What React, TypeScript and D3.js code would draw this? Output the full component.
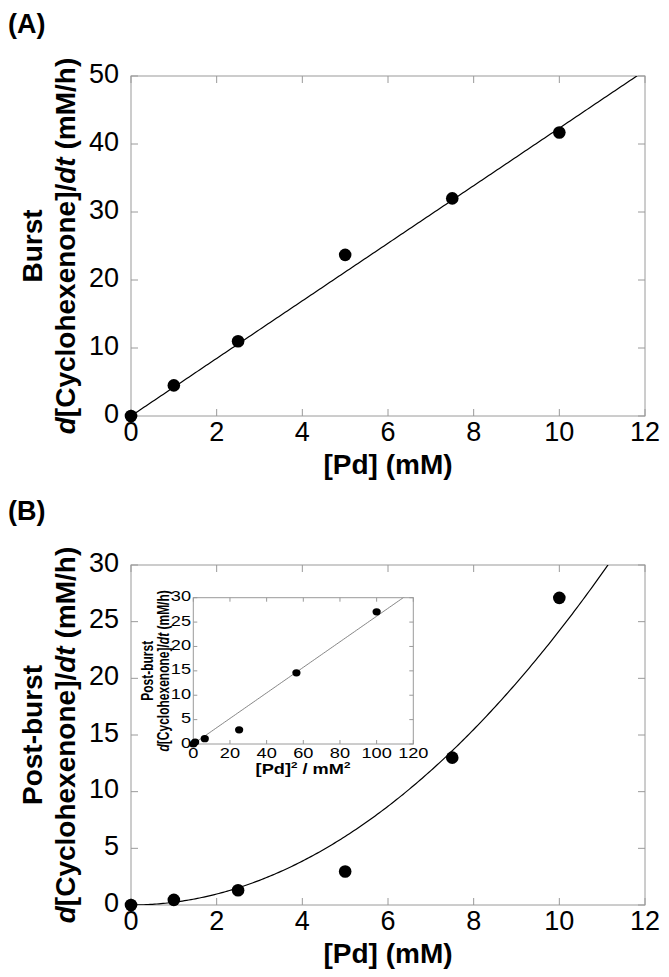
import React from "react";
import * as d3 from "d3";

const pdA = [0, 1, 2.5, 5, 7.5, 10];
const burstRate = [0, 4.5, 11, 23.7, 32, 41.7];
const pdB = [0, 1, 2.5, 5, 7.5, 10];
const postRate = [0, 0.45, 1.3, 2.95, 13.0, 27.1];
const pdSq = [0, 1, 6.25, 25, 56.25, 100];
const insetRate = [0, 0.4, 1.1, 2.9, 14.6, 27.1];
const xTicksMain = [0, 2, 4, 6, 8, 10, 12];
const yTicksA = [0, 10, 20, 30, 40, 50];
const yTicksB = [0, 5, 10, 15, 20, 25, 30];
const xTicksInset = [0, 20, 40, 60, 80, 100, 120];
const yTicksInset = [0, 5, 10, 15, 20, 25, 30];
const slopeA = 4.234; // linear fit, burst
const coefB = 0.242; // quadratic fit, post-burst
const slopeInset = 0.262;

const FONT = "'Liberation Sans', Arial, sans-serif";
const FRAME = "#9a9a9a";

function Frame({ x, y, tl, xTicks, yTicks }: any) {
  const [x0, x1] = x.range();
  const [y0, y1] = y.range();
  return (
    <g>
      <rect x={x0} y={y1} width={x1 - x0} height={y0 - y1} fill="white" stroke={FRAME} strokeWidth={1} />
      {xTicks.map((t: number) => (
        <g key={"x" + t}>
          <line x1={x(t)} x2={x(t)} y1={y0} y2={y0 - tl} stroke={FRAME} />
          <line x1={x(t)} x2={x(t)} y1={y1} y2={y1 + tl} stroke={FRAME} />
        </g>
      ))}
      {yTicks.map((t: number) => (
        <g key={"y" + t}>
          <line x1={x0} x2={x0 + tl} y1={y(t)} y2={y(t)} stroke={FRAME} />
          <line x1={x1} x2={x1 - tl} y1={y(t)} y2={y(t)} stroke={FRAME} />
        </g>
      ))}
    </g>
  );
}

function MainPanel({ top, bottom, yMax, yTicks, xs, ys, fit, clipId, label, labelY, title }: any) {
  const x = d3.scaleLinear().domain([0, 12]).range([131, 645]);
  const y = d3.scaleLinear().domain([0, yMax]).range([bottom, top]);
  const fx = d3.range(0, 12.0001, 0.05);
  const line = d3
    .line<number>()
    .x((d) => x(d))
    .y((d) => y(fit(d)));
  const cy = (top + bottom) / 2;
  return (
    <g>
      <text x={8} y={labelY} fontFamily={FONT} fontWeight="bold" fontSize={27}>
        {label}
      </text>
      <Frame x={x} y={y} tl={7} xTicks={xTicksMain} yTicks={yTicks} />
      <clipPath id={clipId}>
        <rect x={131} y={top} width={514} height={bottom - top} />
      </clipPath>
      <path d={line(fx) || ""} fill="none" stroke="black" strokeWidth={1.2} clipPath={`url(#${clipId})`} />
      {xs.map((v: number, i: number) => (
        <circle key={i} cx={x(v)} cy={y(ys[i])} r={6.3} fill="black" />
      ))}
      {xTicksMain.map((t) => (
        <text key={t} x={x(t)} y={bottom + 25} textAnchor="middle" fontFamily={FONT} fontSize={27}>
          {t}
        </text>
      ))}
      {yTicks.map((t: number) => (
        <text key={t} x={119} y={y(t) + 6.7} textAnchor="end" fontFamily={FONT} fontSize={27}>
          {t}
        </text>
      ))}
      <text x={388} y={bottom + 58} textAnchor="middle" fontFamily={FONT} fontWeight="bold" fontSize={28}>
        [Pd] (mM)
      </text>
      <text transform={`translate(42,${cy}) rotate(-90)`} textAnchor="middle" fontFamily={FONT} fontWeight="bold" fontSize={28}>
        {title}
      </text>
      <text transform={`translate(75,${cy}) rotate(-90)`} textAnchor="middle" fontFamily={FONT} fontWeight="bold" fontSize={28}>
        <tspan fontStyle="italic">d</tspan>[Cyclohexenone]/<tspan fontStyle="italic">dt</tspan> (mM/h)
      </text>
    </g>
  );
}

function Inset() {
  const SX = 1.3;
  const x = d3.scaleLinear().domain([0, 120]).range([193.3, 413.3]);
  const y = d3.scaleLinear().domain([0, 30]).range([744, 597.7]);
  const fx = d3.range(0, 120.001, 1);
  const line = d3
    .line<number>()
    .x((d) => x(d))
    .y((d) => y(slopeInset * d));
  const cy = (744 + 597.7) / 2;
  return (
    <g>
      <Frame x={x} y={y} tl={4} xTicks={xTicksInset} yTicks={yTicksInset} />
      <clipPath id="clipInset">
        <rect x={193.3} y={597.7} width={220} height={146.3} />
      </clipPath>
      <path d={line(fx) || ""} fill="none" stroke="#777" strokeWidth={0.9} clipPath="url(#clipInset)" />
      {pdSq.map((v, i) => (
        <ellipse key={i} cx={x(v)} cy={y(insetRate[i])} rx={4.1} ry={3.6} fill="black" />
      ))}
      {xTicksInset.map((t) => (
        <text key={t} transform={`translate(${x(t)},758) scale(${SX},1)`} textAnchor="middle" fontFamily={FONT} fontSize={14}>
          {t}
        </text>
      ))}
      {yTicksInset.map((t) => (
        <text key={t} transform={`translate(191,${y(t) + 3.5}) scale(${SX},1)`} textAnchor="end" fontFamily={FONT} fontSize={14}>
          {t}
        </text>
      ))}
      <text transform={`translate(303,774) scale(${SX},1)`} textAnchor="middle" fontFamily={FONT} fontWeight="bold" fontSize={14}>
        [Pd]<tspan fontSize={9} dy={-6}>2</tspan>
        <tspan dy={6}> / mM</tspan>
        <tspan fontSize={9} dy={-6}>2</tspan>
      </text>
      <text transform={`translate(153,${cy}) scale(${SX},1) rotate(-90)`} textAnchor="middle" fontFamily={FONT} fontWeight="bold" fontSize={12}>
        Post-burst
      </text>
      <text transform={`translate(169,${cy}) scale(${SX},1) rotate(-90)`} textAnchor="middle" fontFamily={FONT} fontWeight="bold" fontSize={12}>
        <tspan fontStyle="italic">d</tspan>[Cyclohexenone]/<tspan fontStyle="italic">dt</tspan> (mM/h)
      </text>
    </g>
  );
}

export default function App() {
  return (
    <svg
      width={669}
      height={977}
      style={{ position: "absolute", left: 0, top: 0, background: "white" }}
    >
      <rect width={669} height={977} fill="white" />
      <MainPanel
        top={76}
        bottom={416}
        yMax={50}
        yTicks={yTicksA}
        xs={pdA}
        ys={burstRate}
        fit={(d: number) => slopeA * d}
        clipId="clipA"
        label="(A)"
        labelY={33}
        title="Burst"
      />
      <MainPanel
        top={565}
        bottom={905}
        yMax={30}
        yTicks={yTicksB}
        xs={pdB}
        ys={postRate}
        fit={(d: number) => coefB * d * d}
        clipId="clipB"
        label="(B)"
        labelY={520}
        title="Post-burst"
      />
      <Inset />
    </svg>
  );
}
